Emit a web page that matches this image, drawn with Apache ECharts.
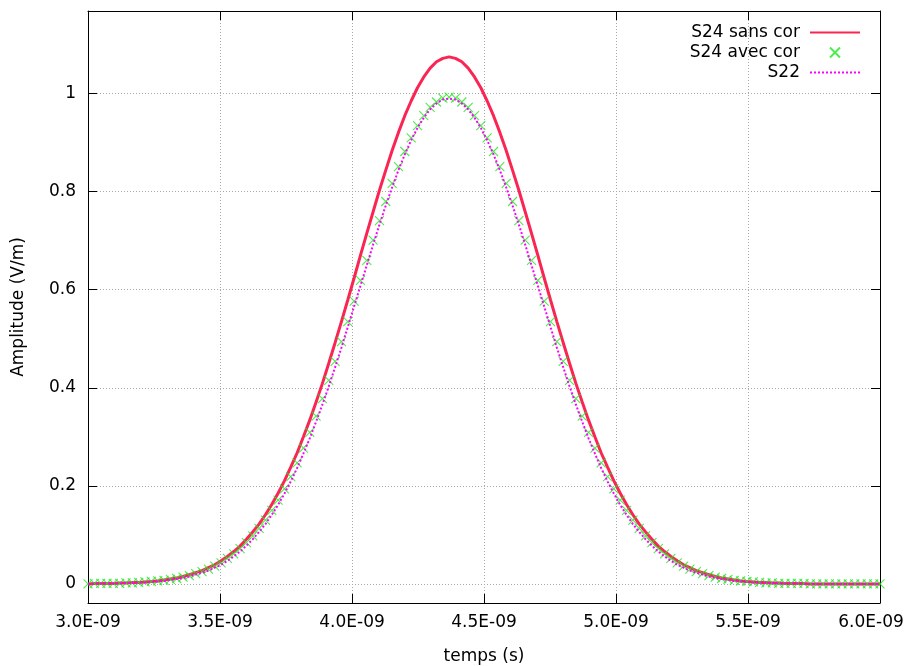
<!DOCTYPE html>
<html>
<head>
<meta charset="utf-8">
<script src="https://cdn.jsdelivr.net/npm/echarts@6/dist/echarts.min.js"></script>
<style>
html,body{margin:0;padding:0;background:#fff;}
#chart{width:904px;height:666px;}
</style>
</head>
<body>
<div id="chart"></div>
<script>
// time axis in ns (labels displayed as E-09 seconds)
const times = [3.000,3.024,3.048,3.072,3.096,3.120,3.144,3.168,3.192,3.216,3.240,3.264,3.288,3.312,3.336,3.360,3.384,3.408,3.432,3.456,3.480,3.504,3.528,3.552,3.576,3.600,3.624,3.648,3.672,3.696,3.720,3.744,3.768,3.792,3.816,3.840,3.864,3.888,3.912,3.936,3.960,3.984,4.008,4.032,4.056,4.080,4.104,4.128,4.152,4.176,4.200,4.224,4.248,4.272,4.296,4.320,4.344,4.368,4.392,4.416,4.440,4.464,4.488,4.512,4.536,4.560,4.584,4.608,4.632,4.656,4.680,4.704,4.728,4.752,4.776,4.800,4.824,4.848,4.872,4.896,4.920,4.944,4.968,4.992,5.016,5.040,5.064,5.088,5.112,5.136,5.160,5.184,5.208,5.232,5.256,5.280,5.304,5.328,5.352,5.376,5.400,5.424,5.448,5.472,5.496,5.520,5.544,5.568,5.592,5.616,5.640,5.664,5.688,5.712,5.736,5.760,5.784,5.808,5.832,5.856,5.880,5.904,5.928,5.952,5.976,6.000];

const s24SansCor = [0,0.001,0.001,0.001,0.001,0.002,0.002,0.003,0.003,0.004,0.005,0.006,0.008,0.010,0.012,0.015,0.019,0.023,0.027,0.033,0.039,0.047,0.056,0.066,0.077,0.091,0.106,0.122,0.141,0.162,0.185,0.210,0.238,0.267,0.300,0.334,0.371,0.409,0.450,0.492,0.535,0.579,0.624,0.670,0.715,0.759,0.803,0.844,0.884,0.921,0.955,0.985,1.012,1.034,1.052,1.065,1.072,1.075,1.072,1.065,1.052,1.034,1.012,0.985,0.955,0.921,0.884,0.844,0.803,0.759,0.715,0.670,0.624,0.579,0.535,0.492,0.450,0.409,0.371,0.334,0.300,0.267,0.238,0.210,0.185,0.162,0.141,0.122,0.106,0.091,0.077,0.066,0.056,0.047,0.039,0.033,0.027,0.023,0.019,0.015,0.012,0.010,0.008,0.006,0.005,0.004,0.003,0.003,0.002,0.002,0.001,0.001,0.001,0.001,0,0,0,0,0,0,0,0,0,0,0,0];

const s24AvecCor = [0,0.001,0.001,0.001,0.001,0.001,0.002,0.002,0.003,0.004,0.005,0.006,0.007,0.009,0.011,0.014,0.017,0.021,0.025,0.030,0.036,0.043,0.052,0.061,0.072,0.084,0.098,0.113,0.130,0.150,0.171,0.194,0.219,0.247,0.277,0.309,0.342,0.378,0.415,0.454,0.494,0.535,0.577,0.619,0.660,0.701,0.741,0.780,0.817,0.851,0.882,0.910,0.935,0.955,0.972,0.983,0.991,0.993,0.991,0.983,0.972,0.955,0.935,0.910,0.882,0.851,0.817,0.780,0.741,0.701,0.660,0.619,0.577,0.535,0.494,0.454,0.415,0.378,0.342,0.309,0.277,0.247,0.219,0.194,0.171,0.150,0.130,0.113,0.098,0.084,0.072,0.061,0.052,0.043,0.036,0.030,0.025,0.021,0.017,0.014,0.011,0.009,0.007,0.006,0.005,0.004,0.003,0.002,0.002,0.001,0.001,0.001,0.001,0.001,0,0,0,0,0,0,0,0,0,0,0,0];

const s22 = [0,0,0.001,0.001,0.001,0.001,0.002,0.002,0.003,0.003,0.004,0.005,0.006,0.008,0.010,0.012,0.015,0.019,0.023,0.027,0.033,0.039,0.047,0.056,0.066,0.078,0.091,0.106,0.122,0.141,0.161,0.184,0.209,0.236,0.266,0.297,0.331,0.366,0.403,0.442,0.482,0.524,0.566,0.608,0.650,0.692,0.733,0.772,0.809,0.844,0.876,0.905,0.930,0.951,0.968,0.980,0.988,0.990,0.988,0.980,0.968,0.951,0.930,0.905,0.876,0.844,0.809,0.772,0.733,0.692,0.650,0.608,0.566,0.524,0.482,0.442,0.403,0.366,0.331,0.297,0.266,0.236,0.209,0.184,0.161,0.141,0.122,0.106,0.091,0.078,0.066,0.056,0.047,0.039,0.033,0.027,0.023,0.019,0.015,0.012,0.010,0.008,0.006,0.005,0.004,0.003,0.003,0.002,0.002,0.001,0.001,0.001,0.001,0,0,0,0,0,0,0,0,0,0,0,0,0];

const xTicks = [3.0, 3.5, 4.0, 4.5, 5.0, 5.5, 6.0];
const yTicks = [0, 0.2, 0.4, 0.6, 0.8, 1];
const seriesNames = ['S24 sans cor', 'S24 avec cor', 'S22'];

const pair = arr => times.map((t, i) => [t, arr[i]]);

const FONT = 'DejaVu Sans';
const FS = 17;
const gridLine = { show: true, showMinLine: false, showMaxLine: false, lineStyle: { color: '#a8a8a8', width: 1, type: [1, 2] } };
const tick = { show: true, inside: true, length: 9, lineStyle: { color: '#000', width: 1 } };
const axisLine = { show: true, onZero: false, lineStyle: { color: '#000', width: 1 } };
const RED = '#fa2552', GREEN = '#22e622', MAG = '#ff00ff';

const chart = echarts.init(document.getElementById('chart'), null, { renderer: 'canvas' });
chart.setOption({
  animation: false,
  backgroundColor: '#fff',
  textStyle: { fontFamily: FONT },
  grid: { left: 88, top: 11, width: 792, height: 592, containLabel: false, outerBoundsMode: 'none' },
  legend: {
    orient: 'vertical', right: 38, top: 19, align: 'right',
    itemWidth: 50, itemHeight: 10, itemGap: 3,
    textStyle: { fontFamily: FONT, fontSize: FS, color: '#000', padding: [0, 5, 0, 0] },
    data: [
      { name: seriesNames[0], itemStyle: { opacity: 0 } },
      { name: seriesNames[1] },
      { name: seriesNames[2], itemStyle: { opacity: 0 } }
    ]
  },
  xAxis: [{
    type: 'value', min: 3.0, max: 6.0, interval: 0.5,
    axisLine, axisTick: tick, splitLine: gridLine,
    axisLabel: { fontFamily: FONT, fontSize: FS, color: '#000', margin: 11,
      formatter: v => {
        const t = xTicks.find(x => Math.abs(x - v) < 1e-9);
        if (t === undefined) return '';
        const s = t.toFixed(1) + 'E-09';
        return t === xTicks[xTicks.length - 1] ? '{last|' + s + '}' : s;
      },
      rich: { last: { fontFamily: FONT, fontSize: FS, color: '#000', padding: [0, 18, 0, 0] } } },
    name: 'temps (s)', nameLocation: 'middle', nameGap: 45,
    nameTextStyle: { fontFamily: FONT, fontSize: FS, color: '#000' }
  }, {
    type: 'value', position: 'top', min: 3.0, max: 6.0, interval: 0.5,
    axisLine, axisTick: tick, splitLine: { show: false }, axisLabel: { show: false }
  }],
  yAxis: [{
    type: 'value', min: -0.039, max: 1.1686, splitNumber: 6,
    axisLine, axisTick: tick, splitLine: gridLine,
    axisLabel: { fontFamily: FONT, fontSize: FS, color: '#000', margin: 12, showMinLabel: false, showMaxLabel: false,
      formatter: v => { const t = yTicks.find(y => Math.abs(y - v) < 1e-6); return t === undefined ? '' : String(t); } },
    name: 'Amplitude (V/m)', nameLocation: 'middle', nameGap: 61, nameRotate: 90,
    nameTextStyle: { fontFamily: FONT, fontSize: FS, color: '#000' }
  }, {
    type: 'value', position: 'right', min: -0.039, max: 1.1686, splitNumber: 6,
    axisLine, axisTick: tick, splitLine: { show: false }, axisLabel: { show: false }
  }],
  series: [{
    name: seriesNames[0], type: 'line', data: pair(s24SansCor),
    showSymbol: false, symbol: 'none',
    lineStyle: { color: RED, width: 3 }, itemStyle: { color: RED }, z: 2
  }, {
    name: seriesNames[1], type: 'scatter', data: pair(s24AvecCor),
    symbol: 'path://M0,0L10,10M10,0L0,10', symbolSize: 9,
    itemStyle: { color: GREEN, borderColor: GREEN, borderWidth: 1.1 }, z: 3
  }, {
    name: seriesNames[2], type: 'line', data: pair(s22),
    showSymbol: false, symbol: 'none',
    lineStyle: { color: MAG, width: 2, type: [2, 2] }, itemStyle: { color: MAG }, z: 4
  }]
});
</script>
</body>
</html>
